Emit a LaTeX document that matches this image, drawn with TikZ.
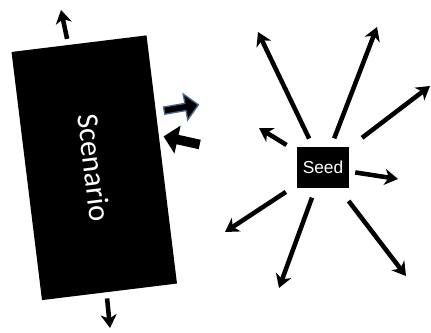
\documentclass[tikz,border=0pt]{standalone}
\usepackage{fontspec}
\newfontfamily\scenariofont{Carlito}
\newfontfamily\seedfont{Liberation Sans}
\usetikzlibrary{arrows.meta, shapes.arrows}
\definecolor{pushblue}{RGB}{68,100,150}

\begin{document}
\begin{tikzpicture}[
    x=0.75pt, y=0.75pt,
    arrow/.style ={draw, line width=3.4pt, -{Stealth[length=10pt, width=12pt, inset=3pt]}},
    scenariobox/.style = {rectangle, fill=black, text=white, inner sep=0pt, minimum width=187.5pt, minimum height=102pt, rotate=-83, font=\scenariofont\fontsize{23}{28}\selectfont},
    seedbox/.style = {rectangle, fill=black, text=white, inner sep=0pt, minimum width=39pt, minimum height=30.75pt, font=\seedfont\fontsize{13}{15}\selectfont},
    fatarrow/.style = {single arrow, fill=black, inner xsep=0pt}
  ]
  \useasboundingbox (0,0) rectangle (431,332);
  \node (scenario) [scenariobox] at (94.25,164.25) {Scenario};
  \node (seed) [seedbox] at (323,164.5) {Seed};
  \node (push) [fatarrow, draw=pushblue, line width=1pt, inner ysep=2.2pt, minimum height=26pt, minimum width=11pt, rotate=9.7] at (179.5,224) {};
  \node (pull) [fatarrow, inner ysep=3.4pt, minimum height=27.75pt, minimum width=12pt, rotate=167.5] at (184,191) {};
  % free ends
  \coordinate (scnup) at (61,322);
  \coordinate (scndown) at (110,4);
  \coordinate (sd1) at (258,300);
  \coordinate (sd2) at (377,305);
  \coordinate (sd3) at (430,246);
  \coordinate (sd4) at (259,204);
  \coordinate (sd5) at (398,153);
  \coordinate (sd6) at (225,100);
  \coordinate (sd7) at (279,44);
  \coordinate (sd8) at (406,56);
  \begin{scope}[every path/.style=arrow]
    \path[shorten <=4.5pt] (scenario) -- (scnup);
    \path[shorten <=4.5pt] (scenario) -- (scndown);
    \path[shorten <=6.75pt] (seed) -- (sd1);
    \path[shorten <=6.75pt] (seed) -- (sd2);
    \path[shorten <=12pt] (seed) -- (sd3);
    \path[shorten <=9pt] (seed) -- (sd4);
    \path[shorten <=4.5pt] (seed) -- (sd5);
    \path[shorten <=9.75pt] (seed) -- (sd6);
    \path[shorten <=7.5pt] (seed) -- (sd7);
    \path[shorten <=12pt] (seed) -- (sd8);
  \end{scope}
\end{tikzpicture}
\end{document}
